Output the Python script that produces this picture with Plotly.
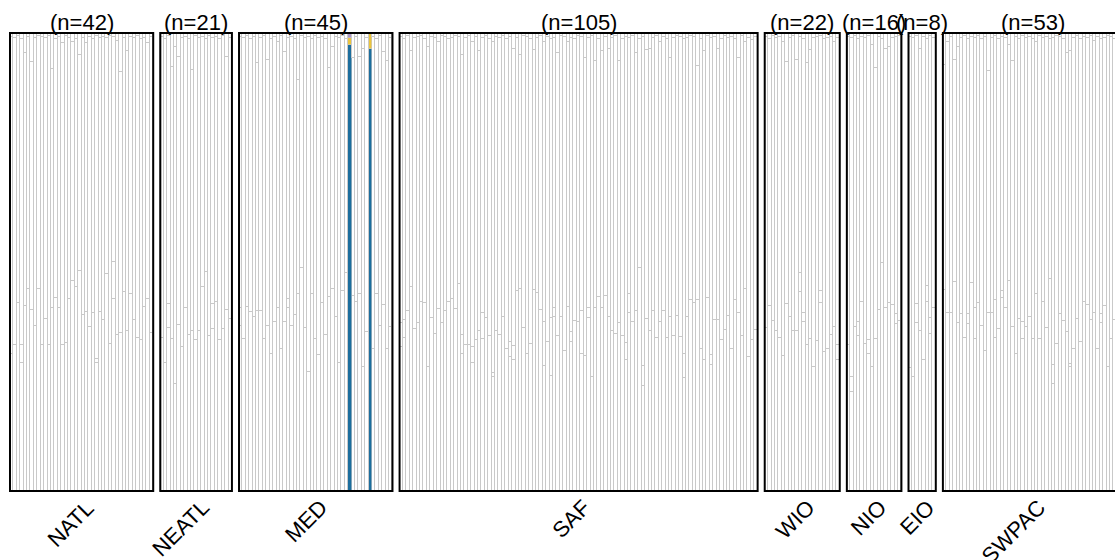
import plotly.graph_objects as go

# Sampling regions and the number of individuals in each
regions = ["NATL", "NEATL", "MED", "SAF", "WIO", "NIO", "EIO", "SWPAC"]

# Per-individual ancestry shares (bottom white component)
natl_lower = [0.300, 0.319, 0.410, 0.280, 0.404, 0.440, 0.395, 0.360, 0.440, 0.319,
              0.375, 0.319, 0.400, 0.422, 0.400, 0.319, 0.324, 0.420, 0.459, 0.446,
              0.480, 0.385, 0.391, 0.357, 0.389, 0.280, 0.391, 0.373, 0.474, 0.322,
              0.420, 0.341, 0.344, 0.435, 0.350, 0.431, 0.373, 0.335, 0.330, 0.402,
              0.420, 0.346]
neatl_lower = [0.335, 0.280, 0.356, 0.331, 0.233, 0.362, 0.315, 0.399, 0.341, 0.350,
               0.330, 0.350, 0.445, 0.479, 0.338, 0.353, 0.413, 0.330, 0.353, 0.395,
               0.375]
med_lower = [0.360, 0.331, 0.402, 0.391, 0.381, 0.394, 0.394, 0.331, 0.360, 0.299,
             0.370, 0.399, 0.311, 0.370, 0.400, 0.360, 0.384, 0.430, 0.488, 0.356,
             0.259, 0.430, 0.331, 0.297, 0.410, 0.341, 0.423, 0.440, 0.381, 0.280,
             0.437, 0.475, 0.000, 0.426, 0.413, 0.430, 0.270, 0.348, 0.000, 0.311,
             0.430, 0.360, 0.406, 0.311, 0.359]
saf_lower = [0.315, 0.333, 0.393, 0.446, 0.353, 0.367, 0.413, 0.411, 0.270, 0.377,
             0.342, 0.397, 0.367, 0.394, 0.413, 0.420, 0.397, 0.452, 0.299, 0.319,
             0.319, 0.279, 0.330, 0.350, 0.331, 0.377, 0.338, 0.248, 0.350, 0.341,
             0.379, 0.311, 0.292, 0.287, 0.437, 0.440, 0.355, 0.299, 0.322, 0.439,
             0.433, 0.395, 0.273, 0.326, 0.251, 0.379, 0.338, 0.379, 0.306, 0.402,
             0.326, 0.372, 0.369, 0.300, 0.295, 0.377, 0.250, 0.399, 0.423, 0.399,
             0.426, 0.379, 0.350, 0.343, 0.367, 0.338, 0.287, 0.389, 0.370, 0.394,
             0.488, 0.229, 0.375, 0.350, 0.394, 0.335, 0.370, 0.394, 0.333, 0.379,
             0.338, 0.382, 0.337, 0.246, 0.381, 0.418, 0.411, 0.418, 0.309, 0.287,
             0.421, 0.275, 0.373, 0.373, 0.330, 0.351, 0.382, 0.309, 0.418, 0.389,
             0.338, 0.442, 0.293, 0.330, 0.351]
wio_lower = [0.355, 0.404, 0.372, 0.350, 0.333, 0.295, 0.408, 0.379, 0.350, 0.350,
             0.435, 0.370, 0.319, 0.331, 0.270, 0.328, 0.411, 0.304, 0.311, 0.341,
             0.357, 0.287]
nio_lower = [0.319, 0.217, 0.357, 0.338, 0.413, 0.321, 0.299, 0.270, 0.331, 0.395,
             0.498, 0.399, 0.411, 0.406, 0.365, 0.372]
eio_lower = [0.268, 0.250, 0.367, 0.350, 0.286, 0.413, 0.343, 0.399]
swpac_lower = [0.439, 0.389, 0.389, 0.457, 0.367, 0.386, 0.333, 0.365, 0.455, 0.331,
               0.411, 0.360, 0.306, 0.389, 0.389, 0.333, 0.353, 0.421, 0.399, 0.459,
               0.357, 0.300, 0.375, 0.331, 0.357, 0.379, 0.331, 0.430, 0.331, 0.413,
               0.355, 0.462, 0.233, 0.321, 0.386, 0.372, 0.348, 0.270, 0.311, 0.375,
               0.326, 0.413, 0.406, 0.373, 0.389, 0.309, 0.366, 0.404, 0.270, 0.331,
               0.373, 0.359, 0.381]

# Minor white component sitting just above the bottom one
natl_split = [0, 0, 0, 0.039, 0, 0, 0, 0, 0, 0,
              0, 0, 0, 0, 0, 0, 0, 0, 0, 0,
              0, 0, 0, 0, 0, 0.009, 0, 0, 0, 0,
              0.080, 0, 0, 0, 0, 0, 0, 0, 0, 0,
              0, 0]
neatl_split = [0, 0, 0.052, 0, 0, 0, 0, 0, 0, 0,
               0, 0, 0, 0, 0, 0.055, 0, 0, 0, 0,
               0]
med_split = [0.040, 0, 0, 0, 0, 0, 0, 0, 0, 0,
             0, 0, 0, 0, 0.020, 0, 0, 0, 0, 0,
             0, 0, 0, 0, 0, 0, 0, 0, 0, 0,
             0, 0, 0, 0, 0, 0, 0, 0, 0, 0,
             0, 0, 0, 0, 0]
saf_split = [0.051, 0.041, 0, 0, 0, 0, 0, 0, 0, 0,
             0, 0, 0, 0, 0, 0, 0, 0, 0.041, 0,
             0, 0.035, 0, 0, 0.058, 0, 0, 0.009, 0, 0,
             0, 0, 0.034, 0.029, 0, 0, 0, 0, 0, 0,
             0, 0, 0.097, 0, 0.126, 0.020, 0, 0, 0, 0,
             0.022, 0, 0, 0.093, 0, 0.022, 0, 0, 0, 0,
             0, 0, 0, 0, 0, 0, 0.036, 0.041, 0, 0,
             0, 0.044, 0, 0, 0, 0, 0, 0, 0, 0,
             0, 0, 0, 0.053, 0, 0, 0, 0, 0, 0,
             0, 0.022, 0, 0, 0, 0, 0, 0, 0, 0,
             0, 0, 0, 0, 0]
wio_split = [0, 0, 0, 0, 0, 0, 0, 0, 0, 0,
             0.041, 0.018, 0, 0, 0, 0, 0.026, 0, 0, 0,
             0, 0.031]
nio_split = [0, 0.031, 0, 0.031, 0, 0, 0.031, 0, 0, 0,
             0, 0, 0, 0, 0.022, 0]
eio_split = [0, 0, 0.042, 0, 0, 0.034, 0.034, 0]
swpac_split = [0, 0, 0, 0, 0, 0, 0, 0.022, 0, 0.068,
               0, 0, 0, 0, 0, 0.085, 0, 0.015, 0, 0,
               0, 0, 0, 0.039, 0, 0, 0, 0, 0, 0,
               0, 0, 0.042, 0, 0, 0, 0, 0.007, 0, 0,
               0, 0, 0, 0, 0, 0, 0.020, 0, 0, 0,
               0, 0, 0]

# Small white component at the top of each bar
natl_top = [0.008, 0.010, 0.006, 0.012, 0.044, 0.008, 0.063, 0.010, 0.006, 0.008,
            0.010, 0.006, 0.079, 0.012, 0.008, 0.022, 0.006, 0.010, 0.020, 0.014,
            0.048, 0.010, 0.022, 0.008, 0.012, 0.006, 0.010, 0.008, 0.010, 0.006,
            0.008, 0.018, 0.085, 0.010, 0.040, 0.008, 0.010, 0.006, 0.012, 0.010,
            0.022, 0.008]
neatl_top = [0.008, 0.012, 0.006, 0.074, 0.030, 0.052, 0.010, 0.008, 0.012, 0.081,
             0.006, 0.010, 0.008, 0.014, 0.006, 0.010, 0.008, 0.012, 0.006, 0.052,
             0.010]
med_top = [0.008, 0.010, 0.006, 0.012, 0.008, 0.066, 0.010, 0.006, 0.059, 0.012,
           0.008, 0.020, 0.006, 0.041, 0.010, 0.008, 0.012, 0.103, 0.006, 0.010,
           0.008, 0.014, 0.006, 0.010, 0.008, 0.012, 0.077, 0.030, 0.008, 0.010,
           0.006, 0.012, 0.000, 0.055, 0.008, 0.052, 0.034, 0.010, 0.000, 0.008,
           0.012, 0.006, 0.041, 0.061, 0.010]
saf_top = [0.008, 0.012, 0.006, 0.039, 0.010, 0.008, 0.006, 0.012, 0.030, 0.008,
           0.010, 0.020, 0.006, 0.008, 0.012, 0.010, 0.006, 0.008, 0.047, 0.010,
           0.006, 0.020, 0.008, 0.040, 0.010, 0.006, 0.012, 0.020, 0.008, 0.010,
           0.006, 0.012, 0.008, 0.036, 0.010, 0.047, 0.006, 0.008, 0.012, 0.038,
           0.010, 0.006, 0.020, 0.008, 0.012, 0.010, 0.044, 0.006, 0.008, 0.020,
           0.010, 0.012, 0.006, 0.008, 0.055, 0.010, 0.006, 0.061, 0.012, 0.040,
           0.008, 0.034, 0.010, 0.006, 0.061, 0.012, 0.008, 0.010, 0.006, 0.044,
           0.012, 0.008, 0.038, 0.034, 0.010, 0.006, 0.020, 0.008, 0.012, 0.055,
           0.010, 0.006, 0.008, 0.012, 0.010, 0.006, 0.008, 0.072, 0.012, 0.040,
           0.006, 0.010, 0.008, 0.034, 0.012, 0.006, 0.010, 0.008, 0.012, 0.055,
           0.006, 0.020, 0.010, 0.016, 0.008]
wio_top = [0.008, 0.012, 0.006, 0.010, 0.008, 0.020, 0.063, 0.010, 0.006, 0.059,
           0.008, 0.012, 0.066, 0.037, 0.010, 0.008, 0.006, 0.012, 0.010, 0.008,
           0.020, 0.010]
nio_top = [0.008, 0.010, 0.006, 0.012, 0.008, 0.010, 0.006, 0.026, 0.077, 0.008,
           0.012, 0.034, 0.030, 0.010, 0.008, 0.006]
eio_top = [0.008, 0.010, 0.006, 0.034, 0.008, 0.012, 0.006, 0.010]
swpac_top = [0.070, 0.020, 0.008, 0.059, 0.030, 0.010, 0.006, 0.012, 0.008, 0.010,
             0.006, 0.012, 0.008, 0.083, 0.010, 0.006, 0.012, 0.008, 0.010, 0.026,
             0.061, 0.008, 0.012, 0.006, 0.010, 0.008, 0.012, 0.020, 0.006, 0.010,
             0.008, 0.012, 0.010, 0.006, 0.008, 0.012, 0.044, 0.040, 0.010, 0.006,
             0.012, 0.008, 0.010, 0.006, 0.018, 0.008, 0.012, 0.010, 0.006, 0.008,
             0.012, 0.010, 0.008]

# Coloured ancestry of the two admixed MED individuals
med_admixed_idx = [32, 38]
med_admixed_blue = [0.973, 0.964]
med_admixed_yellow = [0.016, 0.036]
med_admixed_purple = [0.011, 0.000]

lower_all = [natl_lower, neatl_lower, med_lower, saf_lower, wio_lower, nio_lower, eio_lower, swpac_lower]
split_all = [natl_split, neatl_split, med_split, saf_split, wio_split, nio_split, eio_split, swpac_split]
top_all = [natl_top, neatl_top, med_top, saf_top, wio_top, nio_top, eio_top, swpac_top]
counts = [len(v) for v in lower_all]

# Horizontal layout: one unit per individual, fixed pixel gap between panels
UNIT_PX = 3.41
GAP = 7.1 / UNIT_PX
FIG_W, FIG_H = 1115, 560
LEFT_PX = 10

x, lower, split, middle, top = [], [], [], [], []
blue, yellow, purple = [], [], []
starts = []
offset = 0.0
for g, n in enumerate(counts):
    starts.append(offset)
    for i in range(n):
        x.append(offset + i)
        b = y = p = 0.0
        if regions[g] == "MED" and i in med_admixed_idx:
            k = med_admixed_idx.index(i)
            b, y, p = med_admixed_blue[k], med_admixed_yellow[k], med_admixed_purple[k]
        lo, sp, tp = lower_all[g][i], split_all[g][i], top_all[g][i]
        lower.append(lo)
        split.append(sp)
        blue.append(b)
        yellow.append(y)
        purple.append(p)
        top.append(tp)
        middle.append(max(0.0, 1.0 - lo - sp - tp - b - y - p))
    offset += n + GAP

OUTLINE = "#c9c9c9"
# (name, values, fill colour, outline width)
layers = [
    ("lower", lower, "#ffffff", 1.4),
    ("split", split, "#ffffff", 1.4),
    ("middle", middle, "#ffffff", 1.4),
    ("blue", blue, "#1c6e9d", 0.6),
    ("yellow", yellow, "#ebc43d", 0.6),
    ("purple", purple, "#a995c6", 0.6),
    ("top", top, "#ffffff", 1.4),
]

fig = go.Figure()
for name, vals, col, lw in layers:
    fig.add_trace(go.Bar(
        x=x, y=vals, name=name, width=1.0,
        marker=dict(color=col, line=dict(color=OUTLINE, width=lw)),
        hoverinfo="skip",
    ))

FONT = "Arial, Liberation Sans, sans-serif"
shapes, annotations = [], []
for g, n in enumerate(counts):
    x0 = starts[g] - 0.5
    x1 = starts[g] + n - 0.5
    cx = (x0 + x1) / 2
    shapes.append(dict(type="rect", xref="x", yref="y", x0=x0, x1=x1, y0=0, y1=1,
                       line=dict(color="black", width=2), fillcolor="rgba(0,0,0,0)",
                       layer="above"))
    annotations.append(dict(x=cx, y=1, xref="x", yref="paper", text=f"(n={n})",
                            showarrow=False, xanchor="center", yanchor="bottom",
                            yshift=-6, font=dict(family=FONT, size=22, color="black")))
    annotations.append(dict(x=cx, y=0, xref="x", yref="paper", text=regions[g],
                            showarrow=False, xanchor="right", yanchor="top",
                            textangle=-45, xshift=20, yshift=1,
                            font=dict(family=FONT, size=22, color="black")))

x_start = -0.5 - LEFT_PX / UNIT_PX
x_end = x_start + FIG_W / UNIT_PX
pad = 2 / 458

fig.update_layout(
    width=FIG_W, height=FIG_H,
    margin=dict(l=0, r=0, t=31, b=67),
    barmode="stack", bargap=0,
    showlegend=False,
    plot_bgcolor="white", paper_bgcolor="white",
    xaxis=dict(range=[x_start, x_end], visible=False, fixedrange=True),
    yaxis=dict(range=[-pad, 1 + pad], visible=False, fixedrange=True),
    shapes=shapes, annotations=annotations,
)

fig.write_html("out.html")
